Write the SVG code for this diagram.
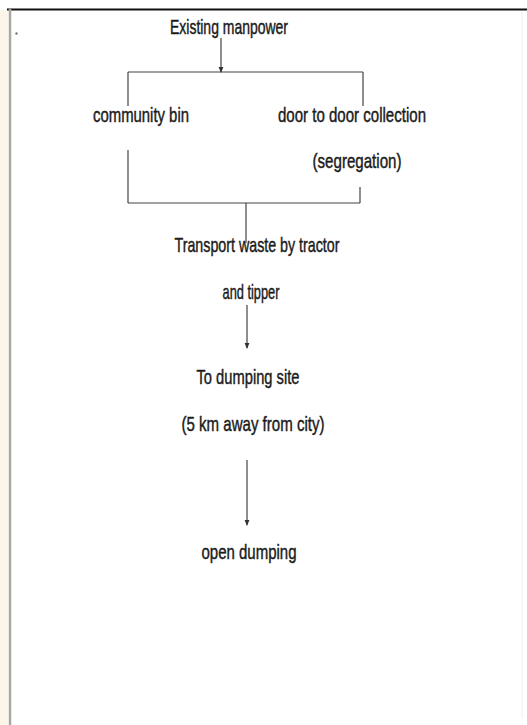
<svg xmlns="http://www.w3.org/2000/svg" width="527" height="725" viewBox="0 0 527 725">
<style>
.t{font-family:"Liberation Sans",Arial,sans-serif;font-size:21px;fill:#1a1a1a;stroke:#1a1a1a;stroke-width:0.45;text-anchor:middle}
.c{stroke:#444;stroke-width:1.2;fill:none}
</style>
<defs>
<marker id="ah" markerWidth="6" markerHeight="6" refX="5" refY="3" orient="auto" markerUnits="userSpaceOnUse" viewBox="0 0 6 6">
<path d="M0,0.6 L6,3 L0,5.4 Z" fill="#333"/>
</marker>
</defs>
<rect x="0" y="0" width="527" height="725" fill="#ffffff"/>
<rect x="0" y="10" width="8" height="715" fill="#fdf4ea"/>
<line x1="7" y1="9.5" x2="527" y2="9.5" stroke="#111" stroke-width="2"/>
<line x1="10" y1="9" x2="10" y2="725" stroke="#a8a8a0" stroke-width="2.5"/>
<line x1="522" y1="12" x2="522" y2="718" stroke="#f0f0f0" stroke-width="1"/>
<circle cx="16.5" cy="33.5" r="1.2" fill="#777"/>

<g id="connectors">
<line class="c" x1="221" y1="38" x2="221" y2="72" marker-end="url(#ah)"/>
<line class="c" x1="128" y1="72" x2="363" y2="72"/>
<line class="c" x1="128" y1="72" x2="128" y2="106"/>
<line class="c" x1="363" y1="72" x2="363" y2="106"/>
<line class="c" x1="128" y1="150" x2="128" y2="203"/>
<line class="c" x1="360" y1="187" x2="360" y2="203"/>
<line class="c" x1="128" y1="203" x2="360" y2="203"/>
<line class="c" x1="246" y1="203" x2="246" y2="243"/>
<line class="c" x1="247" y1="305" x2="247" y2="348" marker-end="url(#ah)"/>
<line class="c" x1="247" y1="460" x2="247" y2="525" marker-end="url(#ah)"/>
</g>

<g id="existing-manpower">
<text class="t" x="229" y="34" textLength="118" lengthAdjust="spacingAndGlyphs">Existing manpower</text>
</g>
<g id="community-bin">
<text class="t" x="141" y="122" textLength="96" lengthAdjust="spacingAndGlyphs">community bin</text>
</g>
<g id="door-to-door">
<text class="t" x="352" y="122" textLength="148" lengthAdjust="spacingAndGlyphs">door to door collection</text>
<text class="t" x="357" y="168" textLength="89" lengthAdjust="spacingAndGlyphs">(segregation)</text>
</g>
<g id="transport">
<text class="t" x="257" y="252" textLength="165" lengthAdjust="spacingAndGlyphs">Transport waste by tractor</text>
<text class="t" x="251" y="299" textLength="57" lengthAdjust="spacingAndGlyphs">and tipper</text>
</g>
<g id="dumping-site">
<text class="t" x="248" y="384" textLength="103" lengthAdjust="spacingAndGlyphs">To dumping site</text>
<text class="t" x="253" y="431" textLength="143" lengthAdjust="spacingAndGlyphs">(5 km away from city)</text>
</g>
<g id="open-dumping">
<text class="t" x="249" y="559" textLength="95" lengthAdjust="spacingAndGlyphs">open dumping</text>
</g>
</svg>
